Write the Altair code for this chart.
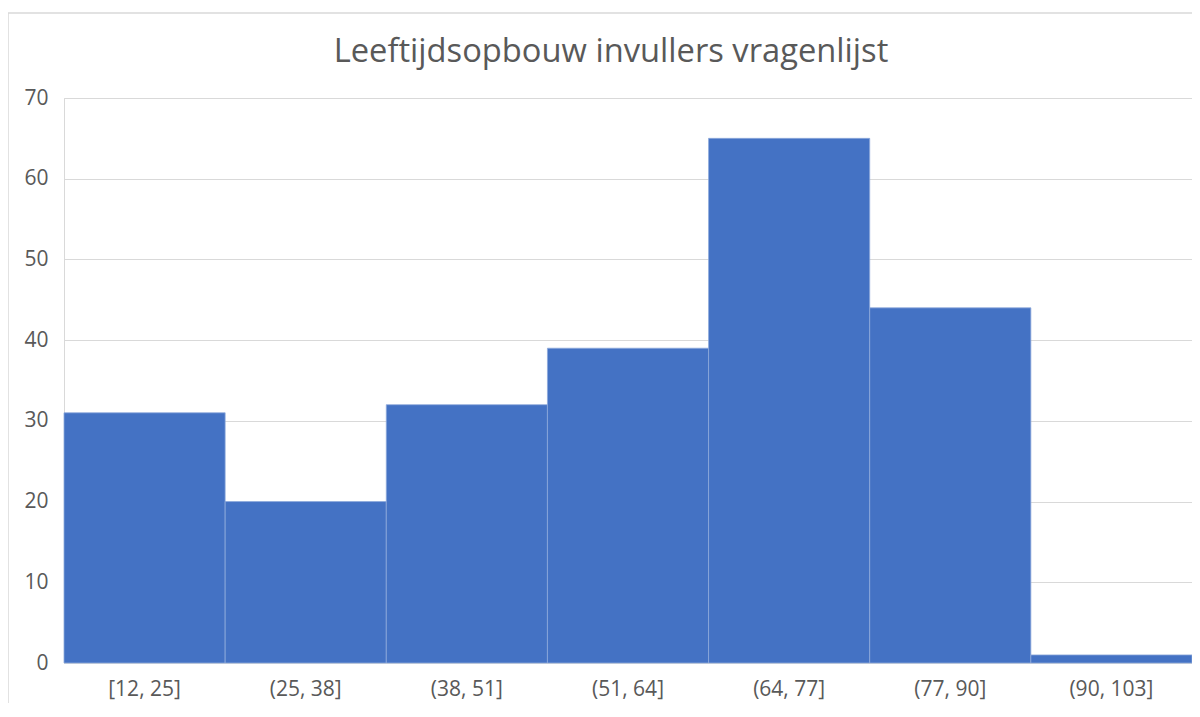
import altair as alt
import pandas as pd

categories = ["[12, 25]", "(25, 38]", "(38, 51]", "(51, 64]", "(64, 77]", "(77, 90]", "(90, 103]"]
counts = [31, 20, 32, 39, 65, 44, 1]
title_text = "Leeftijdsopbouw invullers vragenlijst"

df = pd.DataFrame({"bin": categories, "count": counts})

FONT = "Open Sans"
GRAY = "#595959"
GRID = "#d9d9d9"

frame = alt.Chart(pd.DataFrame({"a": [0]})).mark_rect(
    fill=None, stroke=GRID, strokeWidth=1.5, clip=False
).encode(
    x=alt.value(-56), x2=alt.value(1210),
    y=alt.value(-85), y2=alt.value(720)
)

title = alt.Chart(pd.DataFrame({"t": [title_text]})).mark_text(
    font=FONT, fontSize=32.7, color=GRAY, align="center", baseline="alphabetic"
).encode(
    text="t:N", x=alt.value(547), y=alt.value(-36)
)

bars = alt.Chart(df).mark_bar(
    color="#4472C4", stroke="#8EA9DB", strokeWidth=0.8
).encode(
    x=alt.X("bin:N", sort=categories, title=None,
            scale=alt.Scale(paddingInner=0, paddingOuter=0),
            axis=alt.Axis(labelAngle=0, ticks=False, domain=True, domainColor=GRID,
                          domainWidth=1, labelColor=GRAY, labelFont=FONT,
                          labelFontSize=21, labelPadding=15)),
    y=alt.Y("count:Q", title=None,
            scale=alt.Scale(domain=[0, 70]),
            axis=alt.Axis(values=list(range(0, 71, 10)), ticks=False, domain=True,
                          domainColor=GRID, domainWidth=1, grid=True, gridColor=GRID,
                          gridWidth=1, labelColor=GRAY, labelFont=FONT,
                          labelFontSize=21, labelPadding=16)),
)

chart = alt.layer(frame, title, bars).properties(
    width=1128, height=565,
    autosize=alt.AutoSizeParams(type="none"),
    padding={"left": 56, "top": 90, "right": 0, "bottom": 40},
).configure_view(stroke=None).configure(background="white")

chart.save("out.html", embed_options={"renderer": "svg", "actions": False})
